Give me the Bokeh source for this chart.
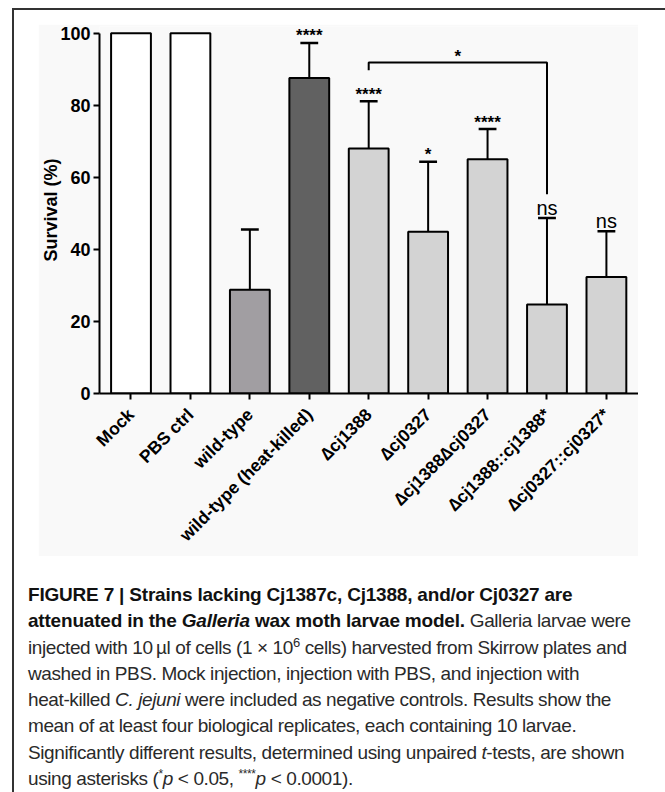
import math
from bokeh.plotting import figure
from bokeh.models import ColumnDataSource, FixedTicker, Div, Range1d
from bokeh.layouts import column
from bokeh.embed import file_html
from bokeh.resources import INLINE
from bokeh.core.properties import value

# ---------------- data ----------------
categories = ["Mock", "PBS ctrl", "wild-type", "wild-type (heat-killed)",
              "\u2206cj1388", "\u2206cj0327", "\u2206cj1388\u2206cj0327",
              "\u2206cj1388::cj1388*", "\u2206cj0327::cj0327*"]
survival = [100, 100, 28.8, 87.6, 68.0, 44.9, 65.0, 24.7, 32.3]
err_upper = [0, 0, 16.7, 9.7, 13.1, 19.4, 8.4, 24.0, 12.7]
significance = ["", "", "", "****", "****", "*", "****", "ns", "ns"]
bar_colors = ["#ffffff", "#ffffff", "#a19ea2", "#616161", "#d3d3d3",
              "#d3d3d3", "#d3d3d3", "#d3d3d3", "#d3d3d3"]
# comparison bracket: Δcj1388 vs Δcj1388::cj1388
bracket_from, bracket_to = 4, 7
bracket_y = 91.9
bracket_left_end = 89.7
bracket_right_end = 55.3
bracket_label = "*"
y_ticks = [0, 20, 40, 60, 80, 100]

FONT = "Liberation Sans"

idx = list(range(len(categories)))
tops = [s + e for s, e in zip(survival, err_upper)]

src = ColumnDataSource(dict(x=idx, top=survival, color=bar_colors))

p = figure(width=600, height=532, output_backend="svg", toolbar_location=None,
           x_range=Range1d(-0.53, 8.54), y_range=Range1d(0, 101.86),
           min_border_left=54, min_border_right=0, min_border_top=2,
           min_border_bottom=163)
p.margin = (14, 0, 0, 24)
p.background_fill_color = "#f9f9f9"
p.border_fill_color = "#f9f9f9"
p.outline_line_color = None
p.xgrid.visible = False
p.ygrid.visible = False

p.vbar(x="x", top="top", width=0.67, bottom=0, source=src,
       fill_color="color", line_color="black", line_width=2)

# error bars (upper only)
eb_x = [i for i, e in zip(idx, err_upper) if e > 0]
eb_lo = [s for s, e in zip(survival, err_upper) if e > 0]
eb_hi = [t for t, e in zip(tops, err_upper) if e > 0]
p.segment(x0=eb_x, y0=eb_lo, x1=eb_x, y1=eb_hi, line_color="black", line_width=2)
p.segment(x0=[x - 0.15 for x in eb_x], y0=eb_hi, x1=[x + 0.15 for x in eb_x],
          y1=eb_hi, line_color="black", line_width=2.5)

# significance labels
star_x = [i for i, s in zip(idx, significance) if "*" in s]
star_y = [t for t, s in zip(tops, significance) if "*" in s]
star_t = [s for s in significance if "*" in s]
p.text(x=star_x, y=star_y, text=star_t, text_align="center",
       text_baseline="alphabetic", y_offset=-7, text_font=value(FONT),
       text_font_style="bold", text_font_size="17px", text_color="black")
ns_x = [i for i, s in zip(idx, significance) if s == "ns"]
ns_y = [t for t, s in zip(tops, significance) if s == "ns"]
ns_t = [s for s in significance if s == "ns"]
p.text(x=ns_x, y=ns_y, text=ns_t, text_align="center",
       text_baseline="alphabetic", y_offset=-10, text_font=value(FONT),
       text_font_size="20px", text_color="black")

# bracket
p.line(x=[bracket_from, bracket_from, bracket_to, bracket_to],
       y=[bracket_left_end, bracket_y, bracket_y, bracket_right_end],
       line_color="black", line_width=2)
p.text(x=[(bracket_from + bracket_to) / 2], y=[bracket_y], text=[bracket_label],
       text_align="center", text_baseline="alphabetic", y_offset=-6,
       text_font=value(FONT), text_font_style="bold", text_font_size="17px",
       text_color="black")

# axes
p.yaxis.ticker = FixedTicker(ticks=y_ticks)
p.yaxis.bounds = (0, 100)
p.yaxis.axis_label = "Survival (%)"
p.yaxis.axis_label_text_font = FONT
p.yaxis.axis_label_text_font_style = "bold"
p.yaxis.axis_label_text_font_size = "18px"
p.yaxis.axis_label_text_color = "black"
p.yaxis.axis_label_standoff = -4
p.yaxis.major_label_text_font = FONT
p.yaxis.major_label_text_font_style = "bold"
p.yaxis.major_label_text_font_size = "18px"
p.yaxis.major_label_text_color = "black"
p.yaxis.major_label_standoff = 3
p.yaxis.minor_tick_line_color = None
p.yaxis.major_tick_in = 0
p.yaxis.major_tick_out = 6

p.xaxis.ticker = FixedTicker(ticks=idx)
p.xaxis.major_label_overrides = {i: c for i, c in zip(idx, categories)}
p.xaxis.major_label_orientation = math.pi / 4
p.xaxis.major_label_text_font = FONT
p.xaxis.major_label_text_font_style = "bold"
p.xaxis.major_label_text_font_size = "17.5px"
p.xaxis.major_label_text_color = "black"
p.xaxis.major_label_standoff = 12
p.xaxis.minor_tick_line_color = None
p.xaxis.major_tick_in = 0
p.xaxis.major_tick_out = 6

for ax in (p.xaxis, p.yaxis):
    ax.axis_line_width = 2
    ax.axis_line_color = "black"
    ax.major_tick_line_width = 2
    ax.major_tick_line_color = "black"

REG = '<span style="letter-spacing:-0.4px">'
caption_html = (
    '<div style="font-family: \'Liberation Sans\', sans-serif; '
    'font-size: 19px; line-height: 26.3px; color: #2a2a2a; white-space: nowrap;">'
    '<b style="color:#111; letter-spacing:-0.2px">FIGURE 7 | Strains lacking Cj1387c, Cj1388, and/or Cj0327 are</b><br>'
    '<b style="color:#111; letter-spacing:-0.2px">attenuated in the <i>Galleria</i> wax moth larvae model.</b>'
    + REG + ' Galleria larvae were</span><br>'
    + REG + 'injected with 10\u2009\u00b5l of cells (1 \u00d7 10<sup style="font-size:13px; line-height:0">6</sup> cells) harvested from Skirrow plates and</span><br>'
    + REG + 'washed in PBS. Mock injection, injection with PBS, and injection with</span><br>'
    + REG + 'heat-killed <i>C. jejuni</i> were included as negative controls. Results show the</span><br>'
    + REG + 'mean of at least four biological replicates, each containing 10 larvae.</span><br>'
    + REG + 'Significantly different results, determined using unpaired <i>t</i>-tests, are shown</span><br>'
    + REG + 'using asterisks (<sup style="font-size:12px; line-height:0">*</sup><i>p</i> &lt; 0.05, '
    '<sup style="font-size:12px; line-height:0">****</sup><i>p</i> &lt; 0.0001).</span>'
    '</div>'
)
cap = Div(text=caption_html, width=637, height=210, margin=(26, 0, 0, 14))

root = column(p, cap, margin=(8, 0, 0, 12),
              styles={"border-top": "2px solid #333", "border-left": "2px solid #333"})

open("out.html", "w").write(file_html(root, INLINE))
